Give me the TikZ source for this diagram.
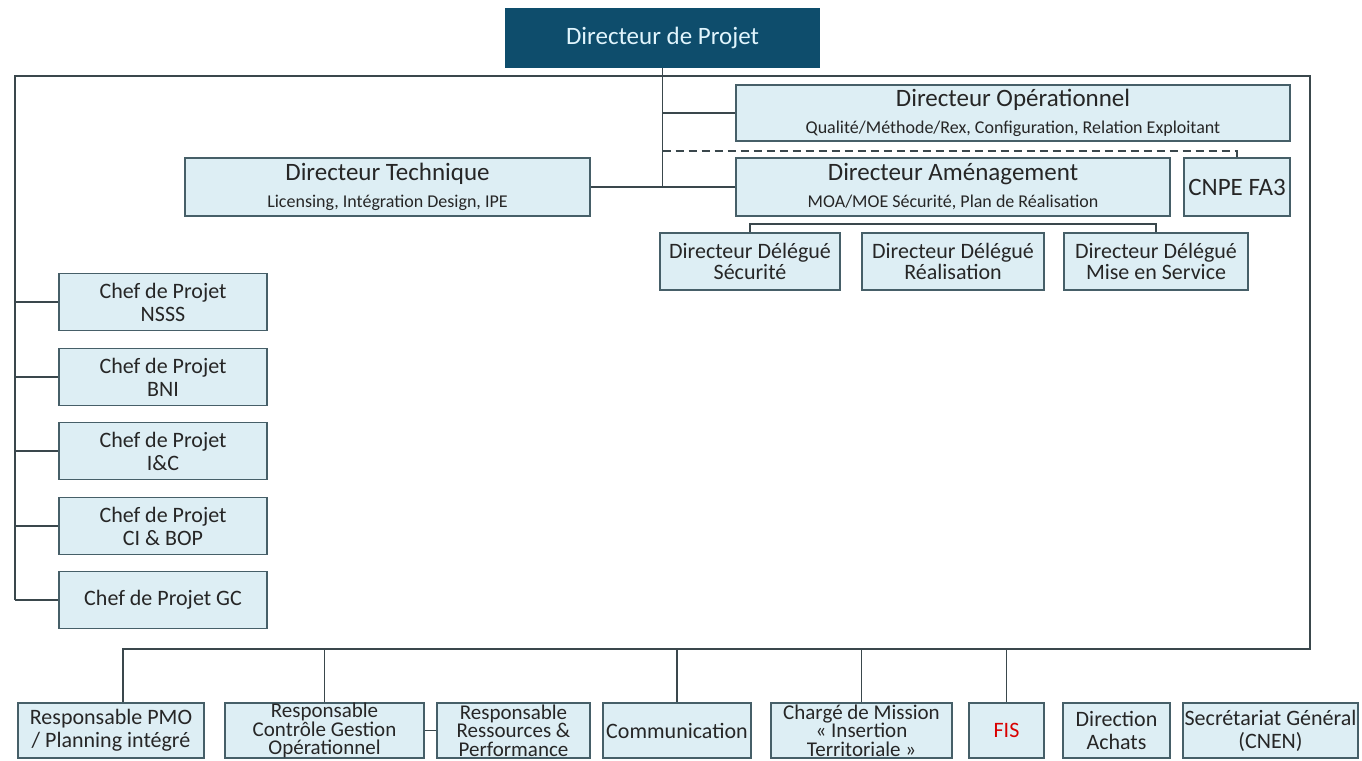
\documentclass[tikz,border=0pt]{standalone}
\usepackage{fontspec}
\setmainfont{Carlito}
\definecolor{boxfill}{HTML}{DDEEF4}
\definecolor{boxline}{HTML}{465F68}
\definecolor{bossfill}{HTML}{0E4D6C}
\definecolor{wirecol}{HTML}{3A474C}
\newcommand\subline[1]{{\fontsize{18}{20}\selectfont #1}}

\begin{document}
\begin{tikzpicture}
  [x=1pt,y=-1pt,
   box/.style={draw=boxline,line width=1.5pt,fill=boxfill,inner sep=0pt,align=center,
     text=black!85,font=\fontsize{22}{23}\selectfont},
   big/.style={font=\fontsize{25}{26}\selectfont},
   tight/.style={font=\fontsize{21}{18.5}\selectfont},
   dlg/.style={font=\fontsize{22}{21}\selectfont},
   boss/.style={box,fill=bossfill,draw=bossfill,text=white!88!cyan,big},
   wire/.style={draw=wirecol,line width=1.3pt}]

  \useasboundingbox (0,0) rectangle (1362,760);

  % direction
  \node[boss,minimum width=313pt,minimum height=58pt] (dp) at (662.5,38) {Directeur de Projet};
  \node[box,big,minimum width=554pt,minimum height=56pt] (dop) at (1013,113)
    {Directeur Opérationnel\\[1pt]\subline{Qualité/Méthode/Rex, Configuration, Relation Exploitant}};
  \node[box,big,minimum width=434pt,minimum height=58pt] (dam) at (953,187)
    {Directeur Aménagement\\[1pt]\subline{MOA/MOE Sécurité, Plan de Réalisation}};
  \node[box,big,minimum width=106pt,minimum height=58pt] (cnpe) at (1237,187) {CNPE FA3};
  \node[box,big,minimum width=405pt,minimum height=58pt] (dtec) at (387.5,187)
    {Directeur Technique\\[1pt]\subline{Licensing, Intégration Design, IPE}};

  % directeurs delegues
  \node[box,dlg,minimum width=180pt,minimum height=57pt] (dds) at (750,261.5) {Directeur Délégué\\Sécurité};
  \node[box,dlg,minimum width=182pt,minimum height=57pt] (ddr) at (953,261.5) {Directeur Délégué\\Réalisation};
  \node[box,dlg,minimum width=184pt,minimum height=57pt] (ddm) at (1156,261.5) {Directeur Délégué\\Mise en Service};

  % chefs de projet
  \node[box,minimum width=208pt,minimum height=57pt] (nsss)  at (163,302) {Chef de Projet\\NSSS};
  \node[box,minimum width=208pt,minimum height=57pt] (bni)   at (163,377) {Chef de Projet\\BNI};
  \node[box,minimum width=208pt,minimum height=57pt] (ic)    at (163,451) {Chef de Projet\\I\&C};
  \node[box,minimum width=208pt,minimum height=57pt] (cibop) at (163,526) {Chef de Projet\\CI \& BOP};
  \node[box,minimum width=208pt,minimum height=57pt] (gc)    at (163,600) {Chef de Projet GC};

  % fonctions support
  \node[box,minimum width=186pt,minimum height=55pt] (pmo)    at (111,730.5)   {Responsable PMO\\/ Planning intégré};
  \node[box,tight,minimum width=199pt,minimum height=55pt] (ctrl)   at (324.5,730.5) {Responsable\\Contrôle Gestion\\Opérationnel};
  \node[box,tight,minimum width=153pt,minimum height=55pt] (ress)   at (513.5,730.5) {Responsable\\Ressources \&\\Performance};
  \node[box,minimum width=148pt,minimum height=55pt] (comm)   at (677,730.5)   {Communication};
  \node[box,tight,minimum width=181pt,minimum height=55pt] (charge) at (861.5,730.5) {Chargé de Mission\\« Insertion\\Territoriale »};
  \node[box,minimum width=75pt,minimum height=55pt,text=red!85!black] (fis) at (1006.5,730.5) {FIS};
  \node[box,minimum width=107pt,minimum height=55pt] (achat)  at (1116.5,730.5) {Direction\\Achats};
  \node[box,minimum width=175pt,minimum height=55pt] (secg)   at (1270.5,730.5) {Secrétariat Général\\(CNEN)};

  \coordinate (tl) at (15,76);
  \coordinate (tr) at (1310,76);
  \coordinate (br) at (1310,649);
  \coordinate (pmotap) at (123,649);
  \coordinate (dash) at (0,151);
  \coordinate (ddbar) at (0,224);

  % liaisons
  \draw[wire] (tl |- gc.west) -- (tl) -- (tr) -- (br) -- (pmotap) -- (pmotap |- pmo.north);
  \draw[wire] (dp.south) -- (dp.south |- dam.west);
  \draw[wire] (dtec.east) -- (dam.west);
  \draw[wire] (dp.south |- dop.west) -- (dop.west);
  \draw[wire,dash pattern=on 8pt off 5pt] (dp.south |- dash) -- (cnpe.north |- dash) -- (cnpe.north);
  \draw[wire] (dds.north) -- (dds.north |- ddbar) -- (ddm.north |- ddbar) -- (ddm.north);
  \draw[wire] (ctrl.east) -- (ress.west);

  \foreach \chef in {nsss,bni,ic,cibop,gc}
    \draw[wire] (tl |- \chef.west) -- (\chef.west);
  \foreach \supp in {ctrl,comm,charge,fis}
    \draw[wire] (\supp.north |- br) -- (\supp.north);

\end{tikzpicture}
\end{document}
